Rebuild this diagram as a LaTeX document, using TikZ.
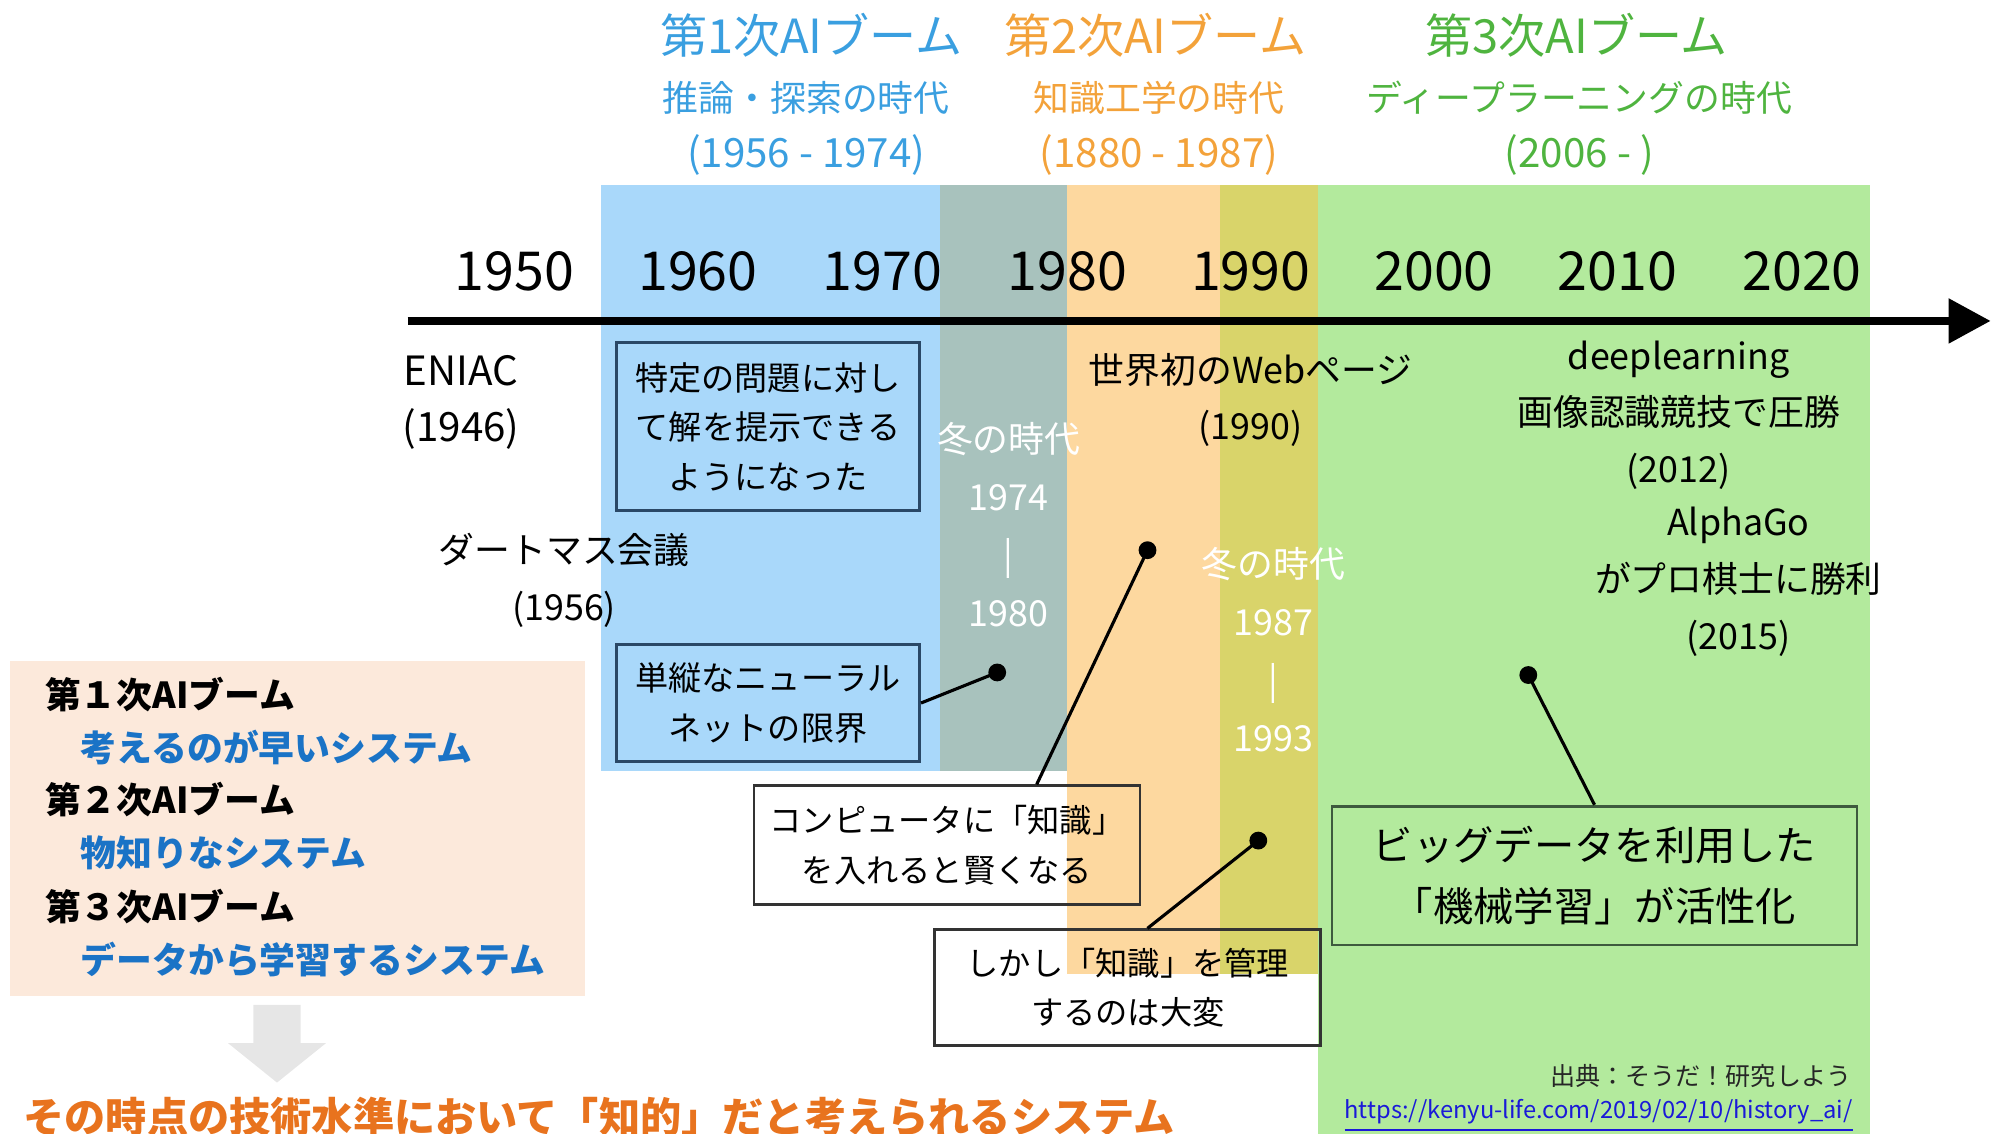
\documentclass[tikz,border=0pt]{standalone}
\usepackage{fontspec}
\setmainfont{Noto Sans CJK JP}
\usetikzlibrary{arrows.meta}
\definecolor{hblue}{HTML}{3A9FE0}
\definecolor{horange}{HTML}{F3A23A}
\definecolor{hgreen}{HTML}{4FB43F}
\definecolor{bandblue}{HTML}{A9D8FA}
\definecolor{bandgray}{HTML}{A8C2BD}
\definecolor{bandorange}{HTML}{FDD89F}
\definecolor{bandolive}{HTML}{D9D46A}
\definecolor{bandgreen}{HTML}{B3EA9D}
\definecolor{peach}{HTML}{FCE9DB}
\definecolor{lblue}{HTML}{1A73C6}
\definecolor{borange}{HTML}{E8731E}
\definecolor{agray}{HTML}{E6E6E6}
\definecolor{navy}{HTML}{2A4866}
\definecolor{dgreen}{HTML}{3E5A3E}
\definecolor{urlblue}{HTML}{1A1AD8}
\tikzset{
  yearlbl/.style={font=\fontsize{12pt}{14pt}\selectfont, text=black},
  boomtitle/.style={font=\fontsize{10.5pt}{12pt}\selectfont},
  boomsub/.style={font=\fontsize{8pt}{10pt}\selectfont},
  boomyear/.style={font=\fontsize{9pt}{10pt}\selectfont},
  evt/.style={font=\fontsize{8pt}{12.7pt}\selectfont, align=center, text=black},
  winter/.style={font=\fontsize{8pt}{13pt}\selectfont, align=center, text=white},
  box/.style={draw=navy, line width=0.6pt, align=center, inner sep=0pt,
    font=\fontsize{7.4pt}{11.1pt}\selectfont},
  wbox/.style={draw=black!80, line width=0.6pt, align=center, inner sep=0pt,
    font=\fontsize{7.2pt}{11.1pt}\selectfont},
  gbox/.style={draw=dgreen, line width=0.6pt, align=center, inner sep=0pt,
    font=\fontsize{9pt}{13.7pt}\selectfont},
  dot/.style={circle, fill=black, inner sep=0pt, minimum size=0.14cm},
  conn/.style={line width=0.7pt, black},
  lhead/.style={anchor=west, font=\bfseries\fontsize{8pt}{10pt}\selectfont, text=black},
  litem/.style={anchor=west, font=\bfseries\fontsize{8pt}{10pt}\selectfont, text=lblue},
}
\begin{document}
\begin{tikzpicture}[x=0.01cm, y=-0.01cm]
\useasboundingbox (0,0) rectangle (1568,890);
% bands
\fill[bandblue] (472,145) rectangle (738,605);
\fill[bandgray] (738,145) rectangle (838,605);
\fill[bandorange] (838,145) rectangle (958,765);
\fill[bandolive] (958,145) rectangle (1035,765);
\fill[bandgreen] (1035,145) rectangle (1468,890);
% left panel
\fill[peach] (8,519) rectangle (459,782);
% headers
\node[boomtitle, text=hblue] (h1) at (637,28) {第1次AIブーム};
\node[boomsub, text=hblue] (h1s) at (633,77) {推論・探索の時代};
\node[boomyear, text=hblue] (h1y) at (633,122) {(1956 - 1974)};
\node[boomtitle, text=horange] (h2) at (907,28) {第2次AIブーム};
\node[boomsub, text=horange] (h2s) at (910,77) {知識工学の時代};
\node[boomyear, text=horange] (h2y) at (910,122) {(1880 - 1987)};
\node[boomtitle, text=hgreen] (h3) at (1238,28) {第3次AIブーム};
\node[boomsub, text=hgreen] (h3s) at (1240,77) {ディープラーニングの時代};
\node[boomyear, text=hgreen] (h3y) at (1240,122) {(2006 - )};
% years
\node[yearlbl] (y1950) at (404,213) {1950};
\node[yearlbl] (y1960) at (548,213) {1960};
\node[yearlbl] (y1970) at (693,213) {1970};
\node[yearlbl] (y1980) at (838,213) {1980};
\node[yearlbl] (y1990) at (982,213) {1990};
\node[yearlbl] (y2000) at (1126,213) {2000};
\node[yearlbl] (y2010) at (1270,213) {2010};
\node[yearlbl] (y2020) at (1415,213) {2020};
% timeline
\coordinate (tl0) at (320,252);
\coordinate (tl1) at (1563,252);
\draw[line width=1.7pt, -{Triangle[length=0.33cm,width=0.34cm]}] (tl0) -- (tl1);
% events
\node[evt, font=\fontsize{9pt}{12.7pt}\selectfont] (eniac) at (362,316) {ENIAC\\(1946)};
\node[evt] (dart) at (443,456) {ダートマス会議\\(1956)};
\node[evt] (web) at (982,314) {世界初のWebページ\\(1990)};
\node[evt] (deep) at (1318,326) {deeplearning\\画像認識競技で圧勝\\(2012)};
\node[evt] (alpha) at (1365,457) {AlphaGo\\がプロ棋士に勝利\\(2015)};
\node[winter] (w1) at (792,412) {冬の時代\\1974\\|\\1980};
\node[winter] (w2) at (1000,510) {冬の時代\\1987\\|\\1993};
% boxes
\node[box, minimum width=2.38cm, minimum height=1.32cm] (b1) at (603,335) {特定の問題に対し\\て解を提示できる\\ようになった};
\node[box, minimum width=2.38cm, minimum height=0.92cm] (b2) at (603,552) {単縦なニューラル\\ネットの限界};
\node[wbox, minimum width=3.03cm, minimum height=0.93cm] (b3) at (743.5,663.5) {コンピュータに「知識」\\を入れると賢くなる};
\node[wbox, minimum width=3.03cm, minimum height=0.91cm] (b4) at (885.5,775.5) {しかし「知識」を管理\\するのは大変};
\node[gbox, minimum width=4.12cm, minimum height=1.09cm] (b5) at (1252,687.5) {ビッグデータを利用した\\「機械学習」が活性化};
% dots and connectors
\node[dot] (d1) at (783,528) {};
\node[dot] (d2) at (901,432) {};
\node[dot] (d3) at (988,660) {};
\node[dot] (d4) at (1200,530) {};
\draw[conn] (b2.east) -- (d1.center);
\draw[conn] ([xshift=2.23cm]b3.north west) -- (d2.center);
\draw[conn] ([xshift=1.68cm]b4.north west) -- (d3.center);
\draw[conn] (b5.north) -- (d4.center);
% left panel text
\node[lhead] (l1) at (23,545) {第１次AIブーム};
\node[litem] (l2) at (51,587) {考えるのが早いシステム};
\node[lhead] (l3) at (23,628) {第２次AIブーム};
\node[litem] (l4) at (51,670) {物知りなシステム};
\node[lhead] (l5) at (23,712) {第３次AIブーム};
\node[litem] (l6) at (51,753) {データから学習するシステム};
% gray arrow
\fill[agray] (199,789) -- (236,789) -- (236,819) -- (256,819) -- (217.5,850) -- (179,819) -- (199,819) -- cycle;
% bottom text
\node[font=\bfseries\fontsize{9.2pt}{11pt}\selectfont, text=borange, anchor=west] (bottom) at (6,877) {その時点の技術水準において「知的」だと考えられるシステム};
% source
\node[font=\fontsize{5.6pt}{7pt}\selectfont, anchor=east, text=black!85] (src) at (1466,845) {出典：そうだ！研究しよう};
\node[font=\fontsize{5.3pt}{7pt}\selectfont, anchor=east, text=urlblue] (url) at (1467,876) {\underline{https://kenyu-life.com/2019/02/10/history\_ai/}};
\end{tikzpicture}
\end{document}
